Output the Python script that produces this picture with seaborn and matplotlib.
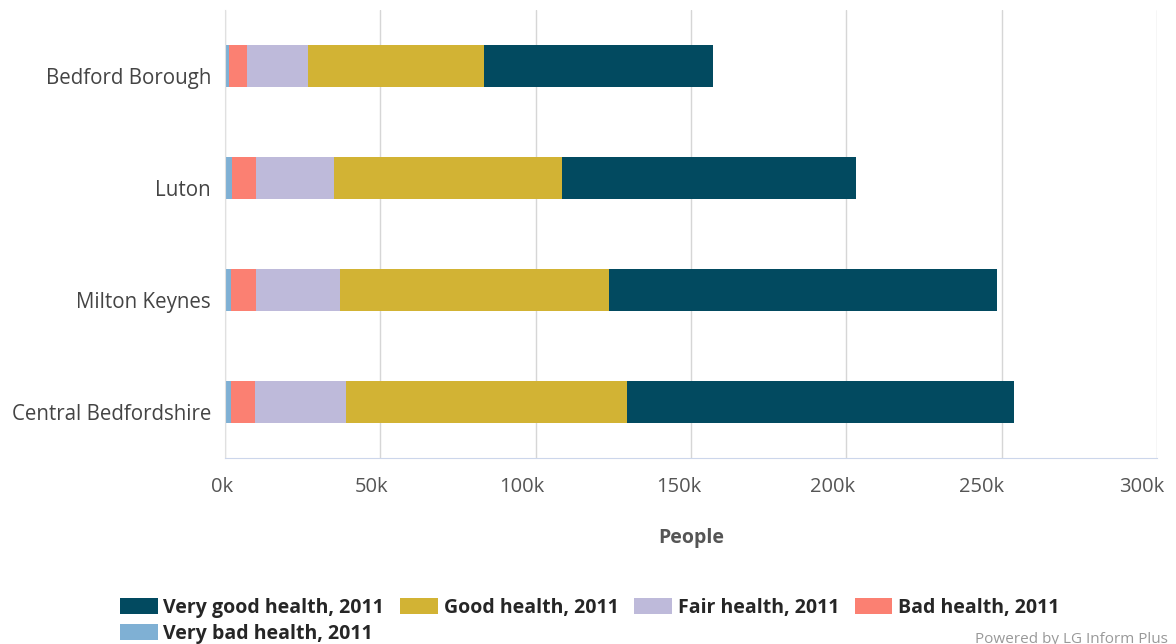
import pandas as pd
import seaborn as sns
import matplotlib.pyplot as plt
import matplotlib.transforms as mtransforms
import numpy as np

# values in thousands of people
Areas = ['Bedford Borough', 'Luton', 'Milton Keynes', 'Central Bedfordshire']
VeryBad = [1.4, 2.4, 1.9, 1.9]
Bad = [5.7, 7.5, 8.2, 7.8]
Fair = [19.6, 25.2, 26.9, 29.2]
Good = [56.7, 73.3, 86.6, 90.4]
VeryGood = [73.6, 94.7, 124.9, 124.6]
TickVals = [0, 50, 100, 150, 200, 250, 300]

Series = ['Very bad health, 2011', 'Bad health, 2011', 'Fair health, 2011',
          'Good health, 2011', 'Very good health, 2011']
Colours = ['#7fb0d4', '#fb8072', '#bebada', '#d2b334', '#024a60']

df = pd.DataFrame({'Area': Areas, Series[0]: VeryBad, Series[1]: Bad, Series[2]: Fair,
                   Series[3]: Good, Series[4]: VeryGood})
# cumulative totals so the stacks can be drawn biggest first
Cum = df[Series].cumsum(axis=1) * 1000

sns.set_style('white')
plt.rcParams['font.family'] = ['Open Sans', 'DejaVu Sans']

fig, ax = plt.subplots(figsize=(11.76, 6.44), dpi=100)
fig.subplots_adjust(left=225/1176, right=1157/1176, top=1-10/644, bottom=1-458/644)

Handles = {}
for i in range(len(Series) - 1, -1, -1):
    sns.barplot(x=Cum[Series[i]], y=df['Area'], color=Colours[i], width=0.37,
                orient='h', ax=ax, saturation=1, linewidth=0)
    Handles[Series[i]] = plt.Rectangle((0, 0), 1, 1, facecolor=Colours[i], edgecolor='none')

ax.set_xlim(0, 300000)
ax.set_ylim(3.5, -0.5)
ax.set_xticks([v * 1000 for v in TickVals])
ax.set_xticklabels([f'{v}k' for v in TickVals])
ax.set_yticks(range(4))
ax.set_yticks(np.arange(-0.5, 4, 1), minor=True)
ax.grid(axis='x', color='#d6d6d6', linewidth=1)
ax.set_axisbelow(True)
for s in ['top', 'right']:
    ax.spines[s].set_visible(False)
ax.spines['left'].set_color('#e0e0e0')
ax.spines['bottom'].set_color('#ccd6eb')
ax.tick_params(axis='x', colors='#ccd6eb', labelcolor='#555555', labelsize=14.5,
               length=5, width=1, pad=9)
ax.tick_params(axis='y', which='major', length=0, labelcolor='#444444', labelsize=14.8, pad=10)
ax.tick_params(axis='y', which='minor', length=10, color='#e0e0e0', width=1)

# category labels sit a little below the bar centres, x labels drift left
for lab in ax.get_yticklabels():
    lab.set_transform(lab.get_transform() + mtransforms.ScaledTranslation(0, -10/100, fig.dpi_scale_trans))
xlabs = ax.get_xticklabels()
shifts = [-3, -9, -14, -12, -14, -20, -15]
for lab, sh in zip(xlabs, shifts):
    lab.set_transform(lab.get_transform() + mtransforms.ScaledTranslation(sh/100, 0, fig.dpi_scale_trans))

ax.set_ylabel('')
ax.set_xlabel('People', fontsize=14, fontweight='bold', color='#555555', labelpad=22)

Order = [Series[4], Series[0], Series[3], Series[2], Series[1]]
fig.legend([Handles[s] for s in Order], Order, loc='upper left', ncol=4,
           bbox_to_anchor=(110/1176, 1-588/644), frameon=False,
           prop={'weight': 'bold', 'size': 14}, handlelength=1.95, handleheight=0.95,
           handletextpad=0.3, columnspacing=0.8, labelspacing=0.3, borderpad=0)

fig.text(975/1176, -3/644, 'Powered by LG Inform Plus', fontsize=11, color='#999999',
         ha='left', va='bottom')

plt.savefig('out.png', dpi=100)
